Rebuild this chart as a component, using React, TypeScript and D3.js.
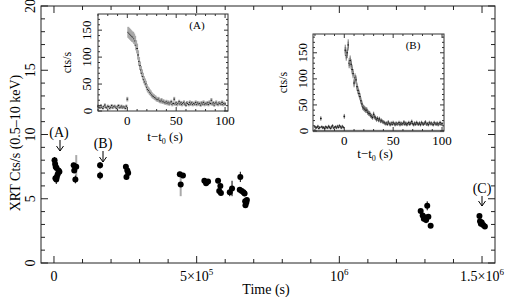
import { range, scaleLinear } from "d3";

// main light curve (XRT, 0.5-10 keV)
const mainTime = [
  2e3, 4e3, 6e3, 9e3, 1.6e4, 1.9e4, 1.3e4, 1e4, 8e3, 5e3,
  6.9e4, 7.8e4, 7.1e4, 7.5e4,
  1.615e5, 1.615e5,
  2.52e5, 2.57e5, 2.6e5, 2.54e5,
  4.41e5, 4.52e5, 4.44e5,
  5.27e5, 5.35e5, 5.4e5, 5.33e5,
  5.75e5, 5.83e5, 5.79e5, 5.85e5,
  6.16e5, 6.24e5,
  6.53e5, 6.51e5, 6.58e5, 6.64e5, 6.68e5, 6.7e5, 6.74e5, 6.71e5, 6.76e5,
  1.285e6, 1.292e6, 1.3e6, 1.308e6, 1.312e6, 1.304e6, 1.32e6, 1.296e6, 1.302e6,
  1.491e6, 1.493e6, 1.499e6, 1.504e6, 1.51e6, 1.496e6,
];
const mainRate = [
  8.0, 7.7, 7.5, 7.4, 7.2, 7.1, 6.9, 6.7, 6.5, 6.6,
  7.6, 7.5, 7.2, 6.5,
  7.6, 6.8,
  7.5, 7.2, 7.0, 6.7,
  6.9, 6.8, 6.1,
  6.4, 6.3, 6.35, 6.2,
  6.4, 6.0, 5.6, 5.45,
  5.5, 5.8,
  6.7, 5.7, 5.6, 5.5, 5.4, 4.8, 4.7, 4.5, 4.9,
  4.05, 3.7, 3.5, 4.45, 3.6, 3.35, 2.9, 3.45, 3.55,
  3.65, 3.25, 3.15, 2.95, 2.85, 3.05,
];
const mainErr = [
  0.25, 0.25, 0.25, 0.25, 0.25, 0.25, 0.25, 0.3, 0.35, 0.3,
  0.2, 0.9, 0.2, 0.3,
  0.25, 0.3,
  0.2, 0.2, 0.2, 0.2,
  0.2, 0.2, 0.9,
  0.15, 0.15, 0.15, 0.15,
  0.2, 0.2, 0.2, 0.2,
  0.3, 0.6,
  0.4, 0.2, 0.2, 0.2, 0.2, 0.2, 0.2, 0.2, 0.2,
  0.15, 0.2, 0.2, 0.35, 0.2, 0.25, 0.15, 0.2, 0.2,
  0.15, 0.15, 0.15, 0.15, 0.15, 0.15,
];
// points whose error bar is drawn in grey
const mainGrey = [11, 22];

const mainXTicks = [0, 5e5, 1e6, 1.5e6];
const mainYTicks = [0, 5, 10, 15, 20];

// inset light curves, 1 s bins from t-t0 = -30 s to 100 s
const insetTime = range(-30, 101);
const insetA = [
  9, 7, 6, 10, 7, 5, 8, 11, 7, 6, 9, 8, 5, 7, 10, 6, 8, 9, 7, 5, 8, 10, 6, 7, 9, 6, 8, 7, 5, 9,
  22,
  146, 144, 142, 140, 138, 137, 134, 130, 122, 116, 104, 92, 84, 76, 70, 64, 58, 54, 50, 44,
  40, 38, 35, 33, 30, 28, 27, 25, 24, 22, 21, 22, 19, 18, 20, 17, 18, 16, 15, 17,
  14, 16, 13, 15, 17, 12, 14, 22, 13, 15, 12, 14, 17, 13, 15, 12, 14, 16, 13, 11,
  15, 14, 12, 16, 13, 15, 12, 14, 13, 16, 12, 15, 13, 14, 11, 15, 13, 16, 12, 14,
  13, 15, 12, 16, 14, 20, 13, 15, 11, 14, 16, 13, 12, 15, 14, 13, 16, 12, 14, 13,
];
const insetB = [
  8, 6, 7, 9, 5, 7, 24, 8, 6, 7, 5, 8, 7, 6, 9, 7, 5, 8, 10, 6, 7, 8, 6, 9, 7, 10, 8, 6, 9, 7,
  28,
  155, 145, 150, 165, 130, 135, 128, 118, 110, 92, 102, 98, 85, 78, 72, 66, 58, 52, 46, 44,
  42, 40, 40, 36, 34, 33, 30, 28, 26, 32, 27, 25, 22, 24, 21, 23, 19, 20, 18, 17,
  16, 14, 15, 13, 17, 14, 12, 15, 13, 16, 14, 12, 15, 13, 14, 16, 12, 15, 13, 14,
  17, 13, 15, 12, 14, 16, 13, 15, 18, 14, 12, 15, 13, 16, 14, 13, 15, 12, 16, 14,
  13, 15, 17, 13, 14, 12, 16, 14, 15, 13, 12, 16, 14, 13, 15, 12, 14, 16, 13, 14,
];
const insetXTicks = [0, 50, 100];
const insetYTicks = [0, 50, 100, 150];

const FONT = "'Liberation Serif', 'DejaVu Serif', serif";

type Box = { left: number; right: number; top: number; bottom: number };

function Frame({ box, x, y, xMinor, yMinor, xMajor, yMajor, major, minor, stroke }: {
  box: Box;
  x: (v: number) => number;
  y: (v: number) => number;
  xMinor: number[];
  yMinor: number[];
  xMajor: number[];
  yMajor: number[];
  major: number;
  minor: number;
  stroke: string;
}) {
  const ticks: JSX.Element[] = [];
  xMinor.forEach((v, i) => {
    const len = xMajor.includes(v) ? major : minor;
    ticks.push(<line key={`xb${i}`} x1={x(v)} x2={x(v)} y1={box.bottom} y2={box.bottom - len} />);
    ticks.push(<line key={`xt${i}`} x1={x(v)} x2={x(v)} y1={box.top} y2={box.top + len} />);
  });
  yMinor.forEach((v, i) => {
    const len = yMajor.includes(v) ? major : minor;
    ticks.push(<line key={`yl${i}`} x1={box.left} x2={box.left + len} y1={y(v)} y2={y(v)} />);
    ticks.push(<line key={`yr${i}`} x1={box.right} x2={box.right - len} y1={y(v)} y2={y(v)} />);
  });
  return (
    <g stroke={stroke} strokeWidth={1} fill="none">
      <rect x={box.left} y={box.top} width={box.right - box.left} height={box.bottom - box.top} />
      {ticks}
    </g>
  );
}

function Arrow({ x, y1, y2 }: { x: number; y1: number; y2: number }) {
  return (
    <g stroke="#000" strokeWidth={1} fill="none">
      <line x1={x} x2={x} y1={y1} y2={y2} />
      <path d={`M${x - 3.5},${y2 - 5} L${x},${y2} L${x + 3.5},${y2 - 5}`} />
    </g>
  );
}

function Inset({ box, values, ymax, xmin, xmax, tag, greyBars, labelX, yLabelX }: {
  box: Box;
  values: number[];
  ymax: number;
  xmin: number;
  xmax: number;
  tag: string;
  greyBars: boolean;
  labelX: number;
  yLabelX: number;
}) {
  const x = scaleLinear().domain([xmin, xmax]).range([box.left, box.right]);
  const y = scaleLinear().domain([0, ymax]).range([box.bottom, box.top]);
  const err = (v: number) => 0.8 * Math.sqrt(v) + 0.5;
  return (
    <g>
      <rect x={box.left} y={box.top} width={box.right - box.left} height={box.bottom - box.top} fill="#fff" />
      {!greyBars && (
        <line x1={box.left} x2={box.right} y1={y(0)} y2={y(0)} stroke="#aaa" strokeWidth={2.5} />
      )}
      <g>
        {insetTime.map((t, i) => {
          const v = values[i];
          const e = err(v);
          const cx = x(t);
          return (
            <g key={i}>
              {greyBars ? (
                <rect x={cx - 1} width={2} y={y(v + e)} height={y(v - e) - y(v + e)} fill="#a8a8a8" />
              ) : (
                <>
                  <rect x={cx - 0.8} width={1.6} y={y(v + e * 0.6)} height={y(v - e * 0.6) - y(v + e * 0.6)} fill="#b8b8b8" />
                  <line x1={cx} x2={cx} y1={y(v + e)} y2={y(v - e)} stroke="#222" strokeWidth={0.6} />
                </>
              )}
              <rect x={cx - 0.8} y={y(v) - 0.5} width={1.6} height={1} fill="#111" />
            </g>
          );
        })}
      </g>
      <Frame
        box={box}
        x={x}
        y={y}
        xMinor={range(-30, xmax, 10)}
        yMinor={range(0, ymax, 10)}
        xMajor={insetXTicks}
        yMajor={insetYTicks}
        major={4}
        minor={2}
        stroke="#333"
      />
      <g fontFamily={FONT} fontSize={13} fill="#000">
        {insetXTicks.map((t) => (
          <text key={t} x={x(t)} y={box.bottom + 14} textAnchor="middle">{t}</text>
        ))}
        {insetYTicks.map((t) => (
          <text key={t} x={yLabelX} y={y(t)} textAnchor="middle" dominantBaseline="central"
            transform={`rotate(-90 ${yLabelX} ${y(t)})`}>{t}</text>
        ))}
        <text x={yLabelX - 20} y={(box.top + box.bottom) / 2} textAnchor="middle" dominantBaseline="central"
          fontSize={12} transform={`rotate(-90 ${yLabelX - 20} ${(box.top + box.bottom) / 2})`}>cts/s</text>
        <text x={labelX} y={box.bottom + (greyBars ? 30 : 27)} textAnchor="middle">
          t−t<tspan fontSize={8} dy={3}>0</tspan><tspan dy={-3}> (s)</tspan>
        </text>
        <text x={box.right - 31} y={box.top + 15} textAnchor="middle" fontSize={11}>{tag}</text>
      </g>
    </g>
  );
}

export default function App() {
  const box: Box = { left: 41, right: 495, top: 6, bottom: 263 };
  const x = scaleLinear().domain([-45500, 1545500]).range([box.left, box.right]);
  const y = scaleLinear().domain([0, 20]).range([box.bottom, box.top]);

  return (
    <svg width={508} height={297} style={{ position: "absolute", left: 0, top: 0, background: "#fff" }}>
      <Frame
        box={box}
        x={x}
        y={y}
        xMinor={range(0, 1.51e6, 1e5)}
        yMinor={range(0, 21, 1)}
        xMajor={mainXTicks}
        yMajor={mainYTicks}
        major={7}
        minor={4}
        stroke="#222"
      />
      <g>
        {mainTime.map((t, i) => (
          <line key={`e${i}`} x1={x(t)} x2={x(t)} y1={y(mainRate[i] + mainErr[i])} y2={y(mainRate[i] - mainErr[i])}
            stroke={mainGrey.includes(i) ? "#aaa" : "#000"} strokeWidth={mainGrey.includes(i) ? 2 : 1} />
        ))}
        {mainTime.map((t, i) => (
          <circle key={`p${i}`} cx={x(t)} cy={y(mainRate[i])} r={3} fill="#000" />
        ))}
      </g>
      <g fontFamily={FONT} fontSize={14} fill="#000">
        {mainXTicks.map((t, i) => (
          <text key={t} x={x(t)} y={281} textAnchor="middle">
            {i === 0 && "0"}
            {i === 1 && (<>5×10<tspan fontSize={9} dy={-6}>5</tspan></>)}
            {i === 2 && (<>10<tspan fontSize={9} dy={-6}>6</tspan></>)}
            {i === 3 && (<>1.5×10<tspan fontSize={9} dy={-6}>6</tspan></>)}
          </text>
        ))}
        {mainYTicks.map((t) => (
          <text key={t} x={30} y={y(t)} textAnchor="middle" dominantBaseline="central"
            transform={`rotate(-90 30 ${y(t)})`}>{t}</text>
        ))}
        <text x={266} y={294} textAnchor="middle">Time (s)</text>
        <text x={15} y={143} textAnchor="middle" dominantBaseline="central"
          transform="rotate(-90 15 143)">XRT Cts/s (0.5–10 keV)</text>
        <text x={59} y={137} textAnchor="middle">(A)</text>
        <text x={103} y={148} textAnchor="middle">(B)</text>
        <text x={482} y={193} textAnchor="middle">(C)</text>
      </g>
      <Arrow x={60} y1={140} y2={151} />
      <Arrow x={103} y1={151} y2={162} />
      <Arrow x={482} y1={196} y2={206} />
      <Inset box={{ left: 98, right: 228, top: 14, bottom: 111 }} values={insetA} ymax={180}
        xmin={-30} xmax={103} tag="(A)" greyBars labelX={165} yLabelX={87} />
      <Inset box={{ left: 313, right: 444, top: 34, bottom: 131 }} values={insetB} ymax={186}
        xmin={-32} xmax={102} tag="(B)" greyBars={false} labelX={375} yLabelX={303} />
    </svg>
  );
}
